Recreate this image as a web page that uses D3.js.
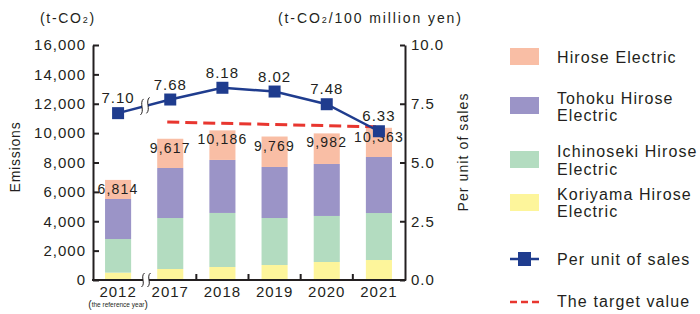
<!DOCTYPE html>
<html><head><meta charset="utf-8">
<script src="https://cdn.jsdelivr.net/npm/d3@7/dist/d3.min.js"></script>
<style>
body{margin:0;background:#fff}
text{font-family:"Liberation Sans",Arial,sans-serif;fill:#231f20}
</style>
</head><body>
<svg id="c" width="700" height="314"></svg>
<script>
// ---- data ----
const years = ["2012","2017","2018","2019","2020","2021"];
const koriyama   = [500, 750, 885, 1020, 1225, 1360];
const ichinoseki = [2290, 3470, 3680, 3200, 3135, 3200];
const tohoku     = [2725, 3405, 3610, 3475, 3540, 3815];
const hirose     = [1299, 1992, 2011, 2074, 2082, 1988];
const totals     = [6814, 9617, 10186, 9769, 9982, 10363];
const perUnit    = [7.10, 7.68, 8.18, 8.02, 7.48, 6.33];
const targetYears  = ["2017","2021"];
const targetValues = [6.72, 6.52];
const leftTicks  = [0,2000,4000,6000,8000,10000,12000,14000,16000];
const rightTicks = [0,2.5,5.0,7.5,10.0];
const seriesNames = ["Hirose Electric","Tohoku Hirose Electric","Ichinoseki Hirose Electric","Koriyama Hirose Electric"];

const colors = {hirose:"#f9bea5", tohoku:"#9b94c7", ichinoseki:"#b3dcc0", koriyama:"#fdf59b"};
const blue = "#1f3c8e", red = "#e8362f", ink = "#231f20";

const svg = d3.select("#c");
const x = d3.scaleBand().domain(years).range([92,405]).paddingInner(0.5).paddingOuter(0.25);
const yL = d3.scaleLinear().domain([0,16000]).range([280,45]);
const yR = d3.scaleLinear().domain([0,10]).range([280,45]);
const cx = d => x(d) + x.bandwidth()/2;

// ---- stacked bars ----
const rows = years.map((y,i)=>({year:y, koriyama:koriyama[i], ichinoseki:ichinoseki[i], tohoku:tohoku[i], hirose:hirose[i]}));
const keys = ["koriyama","ichinoseki","tohoku","hirose"];
const stack = d3.stack().keys(keys)(rows);
svg.append("g").selectAll("g").data(stack).join("g")
  .attr("fill", d => colors[d.key])
  .selectAll("rect").data(d => d).join("rect")
  .attr("x", d => x(d.data.year)).attr("width", x.bandwidth())
  .attr("y", d => yL(d[1])).attr("height", d => yL(d[0]) - yL(d[1]));

// total labels
svg.append("g").selectAll("text").data(years).join("text")
  .attr("x", (d)=>cx(d)).attr("y", (d,i)=>yL(totals[i]) + 14)
  .attr("text-anchor","middle").style("font-size","14px").style("letter-spacing","1.2px")
  .text((d,i)=>d3.format(",")(totals[i]));

// ---- axes ----
const axL = svg.append("g").attr("transform","translate(93,0)")
  .call(d3.axisLeft(yL).tickValues(leftTicks).tickSizeInner(-6).tickSizeOuter(0).tickPadding(7).tickFormat(d3.format(",")));
const axR = svg.append("g").attr("transform","translate(405,0)")
  .call(d3.axisRight(yR).tickValues(rightTicks).tickSizeInner(-5).tickSizeOuter(0).tickPadding(6).tickFormat(d3.format(".1f")));
[axL, axR].forEach(a=>{
  a.select(".domain").attr("stroke",ink).attr("stroke-width",2);
  a.selectAll(".tick line").attr("stroke",ink).attr("stroke-width",2);
  a.selectAll(".tick text").attr("fill",ink).style("font-size","15px").style("letter-spacing","1px").attr("font-family",null);
});

// bottom axis
const axB = svg.append("g").attr("transform","translate(0,280)")
  .call(d3.axisBottom(x).tickSize(0).tickPadding(6));
axB.select(".domain").remove();
axB.selectAll(".tick text").attr("fill",ink).style("font-size","15px").style("letter-spacing","1px").attr("font-family",null);
svg.append("line").attr("x1",92).attr("x2",406).attr("y1",280).attr("y2",280).attr("stroke",ink).attr("stroke-width",2);
const step = x.step();
svg.append("g").selectAll("line").data(years.slice(1,5)).join("line")
  .attr("x1", d => x(d)+x.bandwidth()+step*0.25).attr("x2", d => x(d)+x.bandwidth()+step*0.25)
  .attr("y1",280).attr("y2",274).attr("stroke",ink).attr("stroke-width",2);

// reference year note
const note = svg.append("text").attr("x", cx("2012")).attr("y", 308).attr("text-anchor","middle");
note.append("tspan").style("font-size","10px").text("(");
note.append("tspan").style("font-size","6.5px").attr("dy",-1).text("the reference year");
note.append("tspan").style("font-size","10px").attr("dy",1).text(")");

// break marks
function breakMark(bx, by, h, slope){
  const g = svg.append("g");
  const d1 = bx-3, d2 = bx+3;
  g.append("path").attr("fill","#fff")
    .attr("d", `M${d1},${by-h/2 + slope*(-3)} L${d2},${by-h/2+slope*3} L${d2},${by+h/2+slope*3} L${d1},${by+h/2+slope*(-3)}Z`);
  [d1,d2].forEach(px=>{
    const oy = slope*(px-bx);
    g.append("path").attr("fill","none").attr("stroke",ink).attr("stroke-width",1)
      .attr("d", `M${px+1.5},${by-h/2+oy} C${px-3},${by-h/4+oy} ${px+3},${by+h/4+oy} ${px-1.5},${by+h/2+oy}`);
  });
}

// ---- target dashed line ----
svg.append("path").datum(targetYears.map((y,i)=>[cx(y)-3, yR(targetValues[i])]))
  .attr("fill","none").attr("stroke",red).attr("stroke-width",3).attr("stroke-dasharray","12,6")
  .attr("d", d3.line());

// ---- per unit line ----
const pts = years.map((y,i)=>[cx(y), yR(perUnit[i])]);
svg.append("path").datum(pts).attr("fill","none").attr("stroke",blue).attr("stroke-width",2.5).attr("d", d3.line());
const bxl = 145;
const sl = (pts[1][1]-pts[0][1])/(pts[1][0]-pts[0][0]);
const byl = pts[0][1] + sl*(bxl-pts[0][0]);
breakMark(bxl, byl, 16, sl);
breakMark(146, 280, 14, 0);

svg.append("g").selectAll("rect").data(pts).join("rect")
  .attr("x", d=>d[0]-6).attr("y", d=>d[1]-6).attr("width",12).attr("height",12).attr("fill",blue);
svg.append("g").selectAll("text").data(years).join("text")
  .attr("x", d=>cx(d)).attr("y",(d,i)=>yR(perUnit[i])-10).attr("text-anchor","middle")
  .style("font-size","15px").style("letter-spacing","1px")
  .text((d,i)=>d3.format(".2f")(perUnit[i]));

// ---- axis titles ----
const t1 = svg.append("text").attr("x",40).attr("y",23).style("font-size","14px").style("letter-spacing","1.7px");
t1.append("tspan").text("(t-CO");
t1.append("tspan").style("font-size","9px").text("2");
t1.append("tspan").text(")");
const t2 = svg.append("text").attr("x",278).attr("y",23).style("font-size","14px").style("letter-spacing","1.9px");
t2.append("tspan").text("(t-CO");
t2.append("tspan").style("font-size","9px").text("2");
t2.append("tspan").text("/100 million yen)");

svg.append("text").attr("transform","translate(20,157) rotate(-90)").attr("text-anchor","middle")
  .style("font-size","14px").style("letter-spacing","0.8px").text("Emissions");
svg.append("text").attr("transform","translate(468,152) rotate(-90)").attr("text-anchor","middle")
  .style("font-size","14px").style("letter-spacing","1.1px").text("Per unit of sales");

// ---- legend ----
const lg = svg.append("g");
const legendItems = [
  {key:"hirose", y:48, lines:["Hirose Electric"], base:[63]},
  {key:"tohoku", y:97, lines:["Tohoku Hirose","Electric"], base:[104,121]},
  {key:"ichinoseki", y:151, lines:["Ichinoseki Hirose","Electric"], base:[157,175]},
  {key:"koriyama", y:194, lines:["Koriyama Hirose","Electric"], base:[200,217]}
];
legendItems.forEach((it,i)=>{
  lg.append("rect").attr("x",510).attr("y",it.y).attr("width",29).attr("height",17).attr("fill",colors[it.key]);
  it.lines.forEach((ln,j)=>{
    lg.append("text").attr("x",557).attr("y",it.base[j]).style("font-size","16px").style("letter-spacing","1.1px").text(ln);
  });
});
lg.append("line").attr("x1",510).attr("x2",539).attr("y1",259).attr("y2",259).attr("stroke",blue).attr("stroke-width",2.5);
lg.append("rect").attr("x",518).attr("y",252).attr("width",13).attr("height",14).attr("fill",blue);
lg.append("text").attr("x",557).attr("y",265).style("font-size","16px").style("letter-spacing","1.1px").text("Per unit of sales");
lg.append("line").attr("x1",510).attr("x2",539).attr("y1",302).attr("y2",302).attr("stroke",red).attr("stroke-width",2.5).attr("stroke-dasharray","7,4");
lg.append("text").attr("x",557).attr("y",307).style("font-size","16px").style("letter-spacing","1.1px").text("The target value");
</script>
</body></html>
